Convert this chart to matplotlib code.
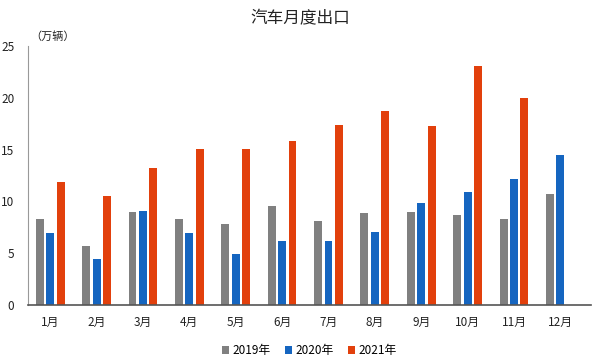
import numpy as np
import matplotlib
matplotlib.use("Agg")
from matplotlib import pyplot as plt

plt.rcParams['font.family'] = ['Noto Sans CJK SC', 'DejaVu Sans']

months = ['1月', '2月', '3月', '4月', '5月', '6月', '7月', '8月', '9月', '10月', '11月', '12月']
y2019 = [8.3, 5.7, 9.0, 8.3, 7.8, 9.6, 8.1, 8.9, 9.0, 8.7, 8.3, 10.7]
y2020 = [6.95, 4.45, 9.1, 7.0, 4.9, 6.2, 6.2, 7.1, 9.9, 10.9, 12.2, 14.5]
y2021 = [11.9, 10.5, 13.2, 15.1, 15.1, 15.8, 17.4, 18.7, 17.3, 23.1, 20.0, np.nan]

fig = plt.figure(figsize=(6, 3.62), dpi=100)
ax = fig.add_axes([0.047, 0.157, 0.938, 0.716])

x = np.arange(len(months))
w = 0.17
off = 0.225
ax.bar(x - off, y2019, w, color='#808080', label='2019年')
ax.bar(x, y2020, w, color='#1565c0', label='2020年')
ax.bar(x + off, y2021, w, color='#e2400c', label='2021年')

ax.set_xlim(-0.474, 11.66)
ax.set_ylim(0, 25)
ax.set_yticks([0, 5, 10, 15, 20, 25])
ax.set_xticks(x)
ax.set_xticklabels(months)
ax.tick_params(length=0, labelsize=8.5, colors='#222222')
ax.tick_params(axis='y', pad=10)
ax.tick_params(axis='x', pad=8)
for s in ['top', 'right']:
    ax.spines[s].set_visible(False)
ax.spines['left'].set_color('#999999')
ax.spines['bottom'].set_color('#555555')
ax.spines['bottom'].set_linewidth(1.2)

fig.text(0.5, 0.948, '汽车月度出口', ha='center', va='center', fontsize=12, color='#222222')
fig.text(0.05, 0.9, '（万辆）', ha='left', va='center', fontsize=8, color='#222222')

ax.legend(loc='upper center', bbox_to_anchor=(0.5, -0.11), ncol=3, frameon=False,
          fontsize=8.5, handlelength=0.6, handleheight=0.6, handletextpad=0.3, columnspacing=1.2)

fig.savefig('out.png', dpi=100)
